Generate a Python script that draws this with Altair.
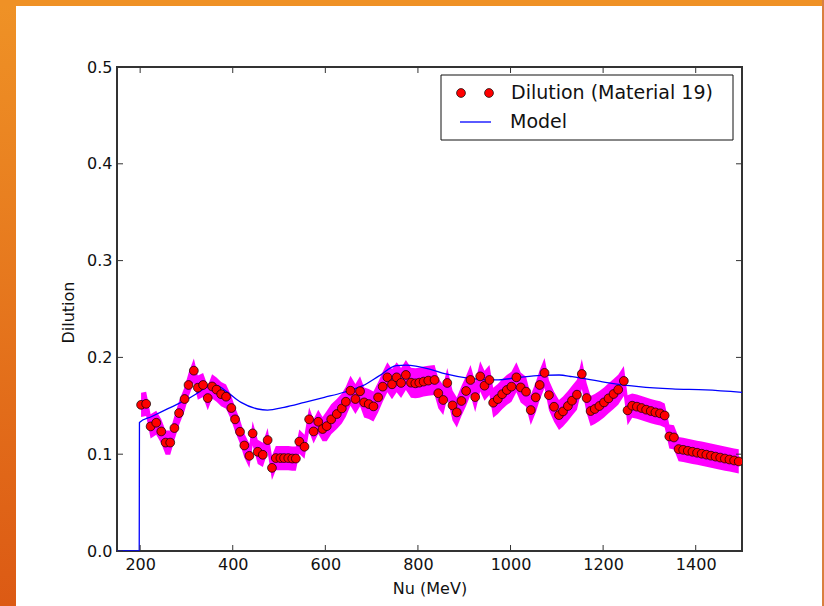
import altair as alt
import pandas as pd

# ---------------- data ----------------
nu = [202, 213, 222.6, 234.8, 245.6, 255, 265, 274, 284, 296, 304.5, 316, 324.6, 336,
      346, 355.4, 365, 375, 385.6, 397, 405, 415.7, 425, 436, 443, 454, 465, 475.4,
      484.7, 493, 503, 511, 520, 528.6, 536.4, 543.7, 555, 565, 574.6, 584.7, 594, 603,
      612.7, 624.8, 635.6, 644.3, 654.3, 665, 675, 683.8, 693.8, 703.9, 714, 724, 734,
      744, 754, 763.6, 774, 785, 794.4, 803, 812.3, 822.4, 836, 844, 854.7, 863.4,
      874.8, 884, 894, 904, 913.6, 923.7, 934.5, 943.8, 954.5, 962.5, 972.6, 982, 992,
      1002, 1012.7, 1022, 1033.6, 1043.7, 1054.5, 1063, 1073.5, 1083, 1094, 1104.7,
      1113.4, 1124, 1132.8, 1143.5, 1154, 1164.4, 1173, 1182, 1192, 1202, 1211.8,
      1222.6, 1232.6, 1244.8, 1252.8, 1262.8, 1273, 1283, 1293, 1303, 1313, 1323, 1333,
      1343, 1353, 1363, 1373, 1383, 1393, 1403, 1413, 1423, 1433, 1443, 1453, 1463,
      1473, 1483, 1493]
dilution = [0.151, 0.152, 0.1287, 0.1325, 0.1235, 0.112, 0.112, 0.127, 0.1425, 0.157,
            0.1715, 0.1863, 0.1687, 0.1715, 0.158, 0.170, 0.1667, 0.162, 0.1594, 0.1477,
            0.136, 0.1232, 0.109, 0.0983, 0.1215, 0.1025, 0.0994, 0.1146, 0.0859, 0.096,
            0.096, 0.096, 0.096, 0.0955, 0.0955, 0.113, 0.1077, 0.136, 0.1235, 0.1335,
            0.126, 0.129, 0.136, 0.1415, 0.1473, 0.1542, 0.1656, 0.157, 0.165, 0.1535,
            0.1518, 0.1494, 0.1587, 0.1698, 0.1794, 0.1722, 0.1794, 0.1736, 0.1819,
            0.1739, 0.1732, 0.1739, 0.175, 0.176, 0.1767, 0.163, 0.156, 0.1736, 0.1504,
            0.1432, 0.155, 0.1653, 0.1767, 0.159, 0.1804, 0.1708, 0.1767, 0.1532, 0.157,
            0.162, 0.1663, 0.1698, 0.1794, 0.169, 0.1646, 0.1456, 0.1587, 0.1715, 0.184,
            0.161, 0.149, 0.1404, 0.1442, 0.1498, 0.1553, 0.1615, 0.1829, 0.158, 0.1446,
            0.1467, 0.1498, 0.1535, 0.1577, 0.1622, 0.1667, 0.1757, 0.1453, 0.1501,
            0.1491, 0.1477, 0.146, 0.1446, 0.1432, 0.1422, 0.140, 0.1183, 0.1173, 0.1053,
            0.1045, 0.1035, 0.1025, 0.1015, 0.1005, 0.0995, 0.0985, 0.0975, 0.0965,
            0.0955, 0.0945, 0.0935, 0.0925]
# half-width of the magenta error band, read per region (upper nu bound, error)
err_regions = [(600, 0.0125), (1258, 0.0155), (1500, 0.0125)]

model_nu = [150, 198, 198.5, 224, 260, 296, 320, 340, 353, 368, 389, 418, 454, 475, 511,
            555, 598, 640, 681, 717, 753, 774, 825, 860, 911, 968, 1011, 1065, 1105,
            1133, 1205, 1277, 1349, 1421, 1500]
model_dil = [0.0, 0.0, 0.1328, 0.1387, 0.147, 0.1553, 0.162, 0.1685, 0.1715, 0.1705,
             0.1639, 0.1535, 0.1467, 0.1456, 0.1484, 0.1535, 0.1587, 0.164, 0.1708,
             0.1812, 0.1915, 0.192, 0.188, 0.1829, 0.1784, 0.1767, 0.1788, 0.1815,
             0.1818, 0.1801, 0.1743, 0.1698, 0.1674, 0.1664, 0.1639]

x_ticks = [200, 400, 600, 800, 1000, 1200, 1400]
y_ticks = [0.0, 0.1, 0.2, 0.3, 0.4, 0.5]


def err_for(v):
    for bound, e in err_regions:
        if v <= bound:
            return e
    return err_regions[-1][1]


# ---------------- tables ----------------
pts = pd.DataFrame({"nu": nu, "dil": dilution})
pts["err"] = [err_for(v) for v in nu]
pts["lo"] = pts["dil"] - pts["err"]
pts["hi"] = pts["dil"] + pts["err"]
model = pd.DataFrame({"nu": model_nu, "dil": model_dil})
xt = pd.DataFrame({"v": x_ticks})
yt = pd.DataFrame({"v": y_ticks})

W, H = 625, 484
PL, PT, PR, PB = 117, 67, 82, 55
FONT = "DejaVu Sans"

xs = alt.Scale(domain=[150, 1500], nice=False, zero=False)
ys = alt.Scale(domain=[0, 0.5], nice=False, zero=False)

x_axis = alt.Axis(values=x_ticks, format="d", title="Nu (MeV)", ticks=False, domain=False,
                  grid=False, labelFont=FONT, labelFontSize=16, labelColor="#111",
                  labelPadding=5, titleFont=FONT, titleFontSize=16, titleFontWeight="normal",
                  titleColor="#111", titleBaseline="middle", titleY=37)
y_axis = alt.Axis(values=y_ticks, format=".1f", title="Dilution", ticks=False, domain=False,
                  grid=False, labelFont=FONT, labelFontSize=16, labelColor="#111",
                  labelPadding=5, titleFont=FONT, titleFontSize=16, titleFontWeight="normal",
                  titleColor="#111", titleBaseline="middle", titleX=-49, titleY=245,
                  titleAlign="center")

band = alt.Chart(pts).mark_area(color="#ff00ff", opacity=1, clip=True).encode(
    x=alt.X("nu:Q", scale=xs, axis=x_axis),
    y=alt.Y("lo:Q", scale=ys, axis=y_axis),
    y2="hi:Q",
)

line = alt.Chart(model).mark_line(color="#0000ff", strokeWidth=1.3, clip=True,
                                  interpolate="monotone").encode(
    x=alt.X("nu:Q", scale=xs),
    y=alt.Y("dil:Q", scale=ys),
    order=alt.Order("nu:Q"),
)

points = alt.Chart(pts).mark_circle(color="#ff0000", stroke="#000000", strokeWidth=0.7,
                                    size=78, opacity=1, clip=True).encode(
    x=alt.X("nu:Q", scale=xs),
    y=alt.Y("dil:Q", scale=ys),
)

TC = "#333333"
tick_b = alt.Chart(xt).mark_rule(color=TC, strokeWidth=1).encode(
    x=alt.X("v:Q", scale=xs), y=alt.value(H), y2=alt.value(H - 6))
tick_t = alt.Chart(xt).mark_rule(color=TC, strokeWidth=1).encode(
    x=alt.X("v:Q", scale=xs), y=alt.value(0), y2=alt.value(6))
tick_l = alt.Chart(yt).mark_rule(color=TC, strokeWidth=1).encode(
    y=alt.Y("v:Q", scale=ys), x=alt.value(0), x2=alt.value(6))
tick_r = alt.Chart(yt).mark_rule(color=TC, strokeWidth=1).encode(
    y=alt.Y("v:Q", scale=ys), x=alt.value(W), x2=alt.value(W - 6))

one = alt.Data(values=[{"a": 1}])

# legend (drawn by hand, matplotlib-style)
leg_box = alt.Chart(one).mark_rect(fill="white", stroke="#111", strokeWidth=1).encode(
    x=alt.value(324), x2=alt.value(616), y=alt.value(8), y2=alt.value(73))
leg_dot1 = alt.Chart(one).mark_circle(color="#ff0000", stroke="#000", strokeWidth=0.7,
                                      size=78, opacity=1).encode(
    x=alt.value(344), y=alt.value(26))
leg_dot2 = alt.Chart(one).mark_circle(color="#ff0000", stroke="#000", strokeWidth=0.7,
                                      size=78, opacity=1).encode(
    x=alt.value(372), y=alt.value(26))
leg_line = alt.Chart(one).mark_rule(color="#0000ff", strokeWidth=1.3).encode(
    x=alt.value(343), x2=alt.value(374), y=alt.value(55))
leg_t1 = alt.Chart(one).mark_text(align="left", baseline="middle", font=FONT, fontSize=19,
                                  color="#111").encode(
    x=alt.value(394), y=alt.value(26), text=alt.value("Dilution (Material 19)"))
leg_t2 = alt.Chart(one).mark_text(align="left", baseline="middle", font=FONT, fontSize=19,
                                  color="#111").encode(
    x=alt.value(393), y=alt.value(55), text=alt.value("Model"))

# slide frame decoration (orange border)
left_band = alt.Chart(one).mark_rect(
    color=alt.Gradient(gradient="linear", x1=0, y1=0, x2=0, y2=1,
                       stops=[alt.GradientStop(color="#EF9226", offset=0),
                              alt.GradientStop(color="#DC5A14", offset=1)])).encode(
    x=alt.value(-PL), x2=alt.value(-PL + 16), y=alt.value(-PT), y2=alt.value(H + PB))
top_band = alt.Chart(one).mark_rect(color="#EF9126").encode(
    x=alt.value(-PL), x2=alt.value(W + PR), y=alt.value(-PT), y2=alt.value(-PT + 6))
right_line = alt.Chart(one).mark_rect(color="#D98040").encode(
    x=alt.value(W + PR - 2), x2=alt.value(W + PR), y=alt.value(-PT), y2=alt.value(H + PB))

chart = alt.layer(
    band, line, points, tick_b, tick_t, tick_l, tick_r,
    leg_box, leg_dot1, leg_dot2, leg_line, leg_t1, leg_t2,
    left_band, top_band, right_line,
).properties(
    width=W, height=H,
    autosize=alt.AutoSizeParams(type="none"),
    padding={"left": PL, "top": PT, "right": PR, "bottom": PB},
    background="white",
).configure_view(stroke="#333333", strokeWidth=2)

chart.save("out.html", embed_options={"renderer": "svg", "actions": False})
